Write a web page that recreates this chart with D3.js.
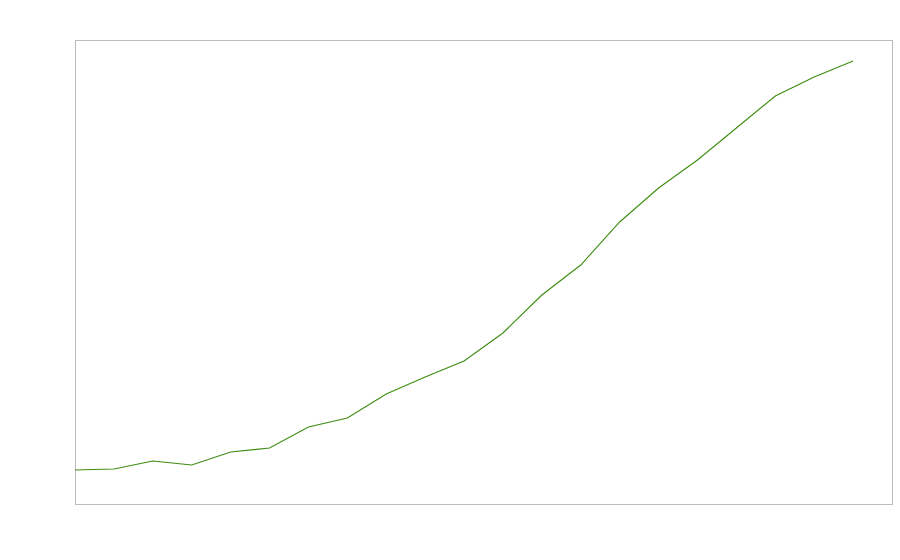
<!DOCTYPE html>
<html>
<head>
<meta charset="utf-8">
<script src="https://cdn.jsdelivr.net/npm/d3@7"></script>
<style>
  html, body { margin: 0; padding: 0; background: #fff; }
  svg { display: block; }
</style>
</head>
<body>
<svg id="chart" width="900" height="560"></svg>
<script>
// Categories (21 periods, unlabeled in the reference)
const categories = d3.range(21).map(i => "P" + (i + 1));
// Series values (arbitrary units)
const values = [34, 35, 43, 39, 52, 56, 77, 86, 110, 127, 143, 171, 209, 239, 282, 316, 344, 376, 408, 427, 443];
const yDomain = [0, 464];

const W = 900, H = 560;
const margin = { top: 40, right: 8, bottom: 56, left: 75 };
const svg = d3.select("#chart");
const innerW = W - margin.left - margin.right;
const innerH = H - margin.top - margin.bottom;

const x = d3.scaleLinear()
  .domain([0, categories.length])
  .range([margin.left, margin.left + innerW]);
const y = d3.scaleLinear()
  .domain(yDomain)
  .range([margin.top + innerH, margin.top]);

svg.append("rect")
  .attr("x", margin.left + 0.5)
  .attr("y", margin.top + 0.5)
  .attr("width", innerW - 1 + 1)
  .attr("height", innerH)
  .attr("fill", "none")
  .attr("stroke", "#bcbcbc")
  .attr("stroke-width", 1);

const line = d3.line()
  .x((d, i) => x(i))
  .y(d => y(d));

svg.append("path")
  .datum(values)
  .attr("d", line)
  .attr("fill", "none")
  .attr("stroke", "#3d8c10")
  .attr("stroke-width", 1.1);
</script>
</body>
</html>
